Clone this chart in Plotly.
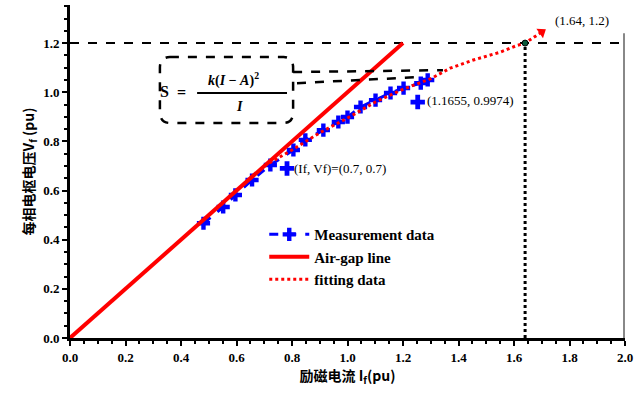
import plotly.graph_objects as go

# Measurement data
meas_x = [0.481, 0.552, 0.596, 0.656, 0.722, 0.805, 0.848, 0.913, 0.967, 1.000, 1.047, 1.101, 1.155, 1.202, 1.264, 1.289]
meas_y = [0.467, 0.533, 0.582, 0.643, 0.704, 0.765, 0.806, 0.846, 0.879, 0.899, 0.940, 0.968, 0.997, 1.017, 1.037, 1.050]
# Air-gap line
air_x = [0.0, 1.2]
air_y = [0.0, 1.2]
# Fitting data
fit_x = [0.70, 0.80, 0.90, 1.00, 1.10, 1.20, 1.30, 1.37, 1.45, 1.55, 1.61, 1.64, 1.70]
fit_y = [0.70, 0.765, 0.835, 0.895, 0.960, 1.012, 1.055, 1.098, 1.13, 1.163, 1.19, 1.20, 1.245]
# Highlighted points
pt1 = (0.782, 0.690)
pt2 = (1.253, 0.960)
knee = (1.64, 1.2)

x_ticks = [0.0, 0.2, 0.4, 0.6, 0.8, 1.0, 1.2, 1.4, 1.6, 1.8, 2.0]
y_ticks = [0.0, 0.2, 0.4, 0.6, 0.8, 1.0, 1.2]

serif = "Liberation Serif"
cjk = "Noto Sans CJK SC"

fig = go.Figure()

# guide lines
fig.add_trace(go.Scatter(x=[0, 2.0], y=[knee[1], knee[1]], mode="lines",
                         line=dict(color="black", width=2, dash="dash"), showlegend=False, hoverinfo="skip"))
fig.add_trace(go.Scatter(x=[knee[0], knee[0]], y=[0, knee[1]], mode="lines",
                         line=dict(color="black", width=3, dash="dot"), showlegend=False, hoverinfo="skip"))

fig.add_trace(go.Scatter(x=meas_x, y=meas_y, mode="lines+markers", name="<b>Measurement data</b>",
                         line=dict(color="#0000ff", width=3, dash="dash"),
                         marker=dict(symbol="cross", size=11, color="#0000ff")))
fig.add_trace(go.Scatter(x=air_x, y=air_y, mode="lines", name="<b>Air-gap line</b>",
                         line=dict(color="#ff0000", width=4)))
fig.add_trace(go.Scatter(x=fit_x, y=fit_y, mode="lines", name="<b>fitting data</b>",
                         line=dict(color="#ff0000", width=3, dash="dot")))
fig.add_trace(go.Scatter(x=[fit_x[-1]], y=[fit_y[-1]], mode="markers", showlegend=False,
                         marker=dict(symbol="triangle-up", size=10, color="#ff0000", angle=55), hoverinfo="skip"))
fig.add_trace(go.Scatter(x=[pt1[0], pt2[0]], y=[pt1[1], pt2[1]], mode="markers", showlegend=False,
                         marker=dict(symbol="cross", size=12, color="#0000ff"), hoverinfo="skip"))
fig.add_trace(go.Scatter(x=[knee[0]], y=[knee[1]], mode="markers", showlegend=False,
                         marker=dict(symbol="circle", size=6, color="#0a5a3a", line=dict(color="black", width=1)),
                         hoverinfo="skip"))

# formula box
fig.add_shape(type="path",
              path="M 0.36,1.143 L 0.77,1.143 Q 0.804,1.143 0.804,1.10 L 0.804,0.92 Q 0.804,0.875 0.77,0.875 "
                   "L 0.36,0.875 Q 0.324,0.875 0.324,0.92 L 0.324,1.10 Q 0.324,1.143 0.36,1.143 Z",
              line=dict(color="black", width=2.5, dash="dash"))
fig.add_shape(type="line", x0=0.804, y0=1.082, x1=1.344, y1=1.090, line=dict(color="black", width=2.5, dash="dash"))
fig.add_shape(type="line", x0=0.818, y0=1.037, x1=1.261, y1=1.062, line=dict(color="black", width=2.5, dash="dash"))
fig.add_shape(type="line", x0=0.458, y0=0.997, x1=0.782, y1=0.997, line=dict(color="black", width=2))
# right gray border
fig.add_shape(type="line", x0=2.0, y0=0, x1=2.0, y1=1.24, line=dict(color="#888888", width=4))

anns = [
    dict(x=0.342, y=1.005, text="<b>S</b>", font=dict(family=serif, size=16)),
    dict(x=0.40, y=1.0, text="<b>=</b>", font=dict(family=serif, size=16)),
    dict(x=0.59, y=1.05, text="<b><i>k</i>(<i>I</i> − <i>A</i>)<sup>2</sup></b>", font=dict(family=serif, size=14)),
    dict(x=0.61, y=0.94, text="<b><i>I</i></b>", font=dict(family=serif, size=14)),
    dict(x=0.80, y=0.69, text="(If, Vf)=(0.7, 0.7)", xanchor="left", font=dict(family=serif, size=13)),
    dict(x=1.28, y=0.968, text="(1.1655, 0.9974)", xanchor="left", font=dict(family=serif, size=13)),
    dict(x=1.74, y=1.29, text="(1.64, 1.2)", xanchor="left", font=dict(family=serif, size=13)),
]
for a in anns:
    a.setdefault("xanchor", "center")
    fig.add_annotation(showarrow=False, xref="x", yref="y", font_color="black", **a)

fig.update_layout(
    width=637, height=394,
    margin=dict(l=70, r=12, t=5, b=56),
    paper_bgcolor="white", plot_bgcolor="white",
    showlegend=True,
    legend=dict(x=0.35, y=0.36, xanchor="left", yanchor="top", bgcolor="rgba(0,0,0,0)",
                font=dict(family=serif, size=15, color="black"), itemwidth=40, tracegroupgap=0),
    font=dict(family=serif, color="black"),
)
fig.update_xaxes(range=[0, 2.0], tickvals=x_ticks, ticktext=[f"<b>{v:.1f}</b>" for v in x_ticks],
                 showgrid=False, zeroline=False, showline=True, linecolor="black", linewidth=3,
                 ticks="outside", ticklen=5, tickwidth=2, tickcolor="black",
                 minor=dict(ticks="outside", ticklen=3, tickwidth=2, tickcolor="black", dtick=0.05),
                 tickfont=dict(family=serif, size=13, color="black"),
                 title=dict(text="<b>励磁电流 I<sub>f</sub>(pu)</b>", font=dict(family=cjk, size=14, color="black"), standoff=2))
fig.update_yaxes(range=[0, 1.355], tickvals=y_ticks, ticktext=[f"<b>{v:.1f}</b>" for v in y_ticks],
                 showgrid=False, zeroline=False, showline=True, linecolor="black", linewidth=3,
                 ticks="outside", ticklen=5, tickwidth=2, tickcolor="black",
                 minor=dict(ticks="outside", ticklen=3, tickwidth=2, tickcolor="black", dtick=0.05),
                 tickfont=dict(family=serif, size=13, color="black"),
                 title=dict(text="<b>每相电枢电压V<sub>f</sub> (pu)</b>", font=dict(family=cjk, size=14, color="black"), standoff=6))

fig.write_html("out.html", config={"displayModeBar": False},
               post_script="document.body.style.margin='0';document.body.style.overflow='hidden';")
